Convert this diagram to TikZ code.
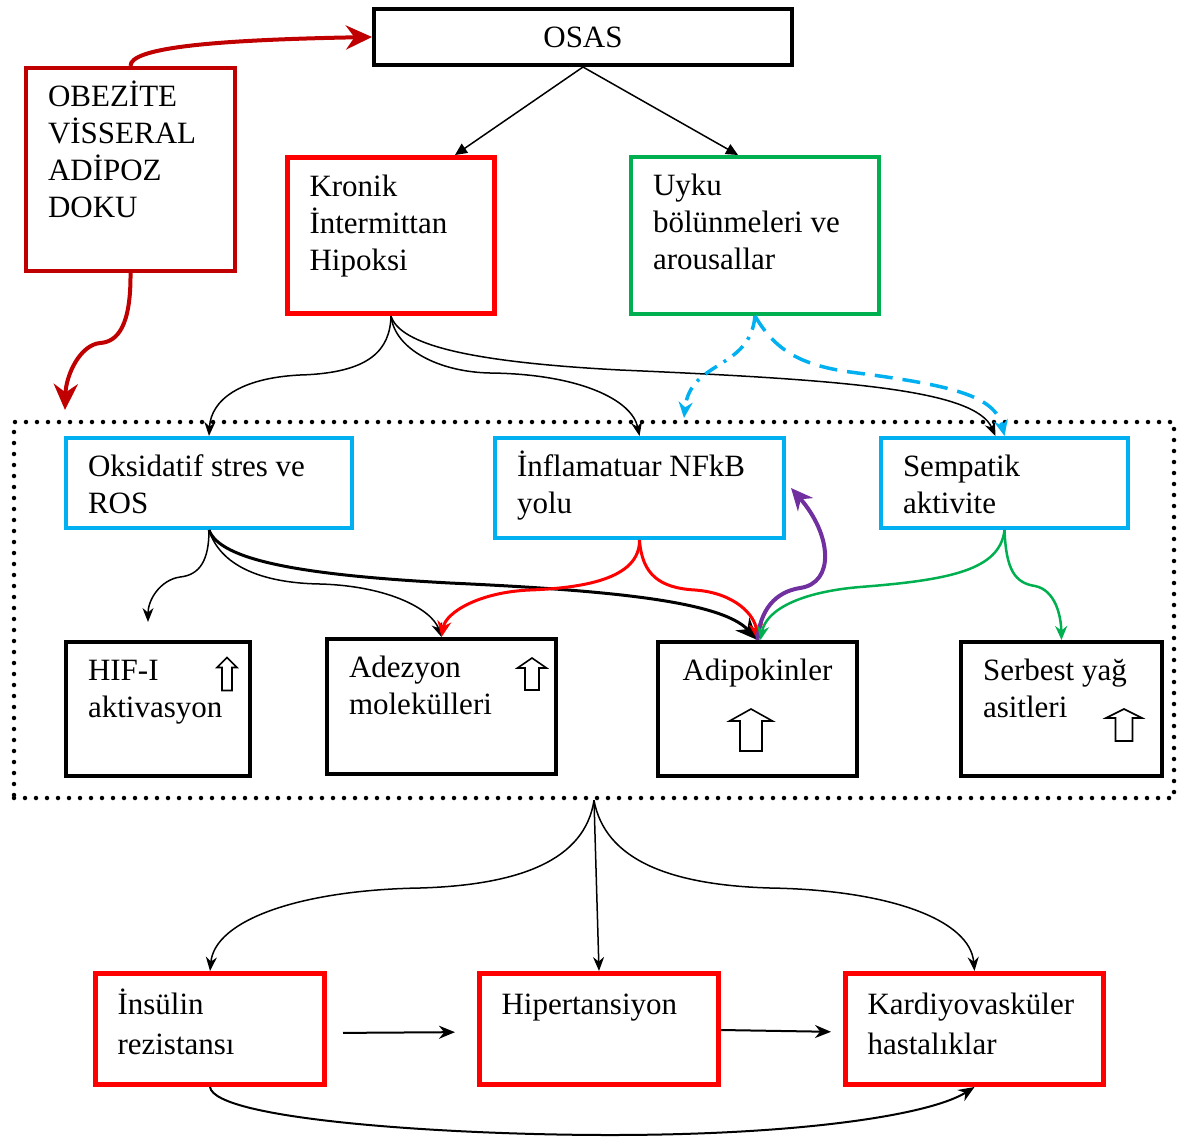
\documentclass[tikz,border=0pt]{standalone}
\usepackage{fontspec}
\setmainfont{Liberation Serif}
\usetikzlibrary{arrows.meta}
\definecolor{DarkRed}{HTML}{C00000}
\definecolor{BoxRed}{HTML}{FF0000}
\definecolor{BoxGreen}{HTML}{00B050}
\definecolor{BoxCyan}{HTML}{00B0F0}
\definecolor{Purple}{HTML}{7030A0}
\newcommand{\boxtext}[3]{\parbox[t][#2pt][t]{#1pt}{\raggedright\strut #3}}
\newcommand{\boxtextc}[3]{\parbox[t][#2pt][t]{#1pt}{\centering\strut #3}}
% yukari ok: x, y, boy, bas genisligi, govde genisligi, bas boyu
\newcommand{\uparr}[6]{%
  \draw[uparrow] ({#1-#5/2},{#2+#3/2}) -- ({#1-#5/2},{#2-#3/2+#6}) -- ({#1-#4/2},{#2-#3/2+#6})
    -- (#1,{#2-#3/2}) -- ({#1+#4/2},{#2-#3/2+#6}) -- ({#1+#5/2},{#2-#3/2+#6}) -- ({#1+#5/2},{#2+#3/2}) -- cycle;}
\tikzset{
    box/.style={rectangle, draw=black, line width=4pt, inner xsep=22pt, inner ysep=13pt, font=\fontsize{31}{37}\selectfont},
    redbox/.style={box, draw=BoxRed, line width=5pt},
    cyanbox/.style={box, draw=BoxCyan},
    dotbox/.style={draw, line width=4.5pt, dash pattern=on 0pt off 11pt, line cap=round, inner sep=0pt},
    uparrow/.style={draw, line width=1.6pt, fill=white, line join=miter},
    osaslink/.style={-{Triangle[length=12pt,width=11pt]}, line width=1.5pt},
    thinlink/.style={-{Stealth[length=14pt,width=11pt]}, line width=1.5pt},
    thicklink/.style={-{Stealth[length=22pt,width=19pt]}, line width=3pt},
    boldlink/.style={-{Stealth[length=16pt,width=13pt]}, line width=2pt},
    redlink/.style={-{Stealth[length=16pt,width=14pt]}, line width=3pt, draw=BoxRed},
    greenlink/.style={-{Stealth[length=14pt,width=12pt]}, line width=2.5pt, draw=BoxGreen},
    purplelink/.style={-{Stealth[length=22pt,width=20pt]}, line width=4pt, draw=Purple},
    cyanlink/.style={-{Stealth[length=16pt,width=14pt]}, line width=3.5pt, draw=BoxCyan},
    obezlink/.style={-{Stealth[length=26pt,width=24pt]}, line width=4pt, draw=DarkRed},
}
\begin{document}
\begin{tikzpicture}[x=1pt, y=-1pt]
\useasboundingbox (0,0) rectangle (1193,1140);

% ust kutular
\node[box, minimum width=418pt, minimum height=56pt] (osas) at (583,37) {OSAS};
\node[box, draw=DarkRed] (obez) at (130.5,169.5) {\boxtext{165}{177}{OBEZİTE\\VİSSERAL\\ADİPOZ\\DOKU}};
\node[redbox] (kronik) at (391,235.5) {\boxtext{163}{130}{Kronik\\İntermittan\\Hipoksi}};
\node[box, draw=BoxGreen] (uyku) at (755,235.5) {\boxtext{204}{131}{Uyku\\bölünmeleri ve\\arousallar}};

% noktali cerceve ve icindekiler
\node[dotbox, minimum width=1160pt, minimum height=376pt] (core) at (594,610) {};
\node[cyanbox] (oks) at (209,483) {\boxtext{242}{64}{Oksidatif stres ve\\ROS}};
\node[cyanbox] (inf) at (639.5,488) {\boxtext{245}{74}{İnflamatuar NFkB\\yolu}};
\node[cyanbox] (sem) at (1004.5,483) {\boxtext{203}{64}{Sempatik\\aktivite}};
\node[box] (hif) at (158,709) {\boxtext{140}{108}{HIF-I\\aktivasyon}};
\node[box] (adez) at (441.5,706.5) {\boxtext{185}{109}{Adezyon\\molekülleri}};
\node[box] (adip) at (757.5,709) {\boxtextc{155}{108}{Adipokinler}};
\node[box] (ser) at (1061.5,709) {\boxtext{157}{108}{Serbest yağ\\asitleri}};
\uparr{227}{674}{33}{20}{10}{10}
\uparr{532}{674}{32}{29}{14}{10}
\uparr{751}{730}{42}{43}{22}{12}
\uparr{1124}{725}{32}{36}{17}{9}

% alt kutular
\node[redbox, font=\fontsize{31}{40}\selectfont] (ins) at (210,1029) {\boxtext{185}{85}{İnsülin\\rezistansı}};
\node[redbox, font=\fontsize{31}{40}\selectfont] (hip) at (599,1029) {\boxtext{195}{85}{Hipertansiyon}};
\node[redbox, font=\fontsize{31}{40}\selectfont] (kar) at (974.5,1029) {\boxtext{214}{85}{Kardiyovasküler\\hastalıklar}};

% obezite oklari
\coordinate (obezend) at (65,410);
\draw[obezlink] (obez.north) .. controls (130,48) and (210,40) .. (osas.west);
\draw[obezlink] (obez.south) .. controls (131,325) and (118,342) .. (100,343) .. controls (80,345) and (66,375) .. (obezend);

% OSAS
\draw[osaslink] (osas.south) -- ([xshift=64pt]kronik.north);
\draw[osaslink] (osas.south) -- ([xshift=-17pt]uyku.north);

% kronik hipoksi
\draw[thinlink] (kronik.south) .. controls (390,350) and (370,373) .. (300,375) .. controls (240,378) and (211,400) .. (oks.north);
\draw[thinlink] (kronik.south) .. controls (395,350) and (440,372) .. (490,373) .. controls (580,374) and (632,400) .. (inf.north);
\draw[thinlink] (kronik.south) .. controls (400,345) and (470,362) .. (620,370) .. controls (850,380) and (975,390) .. ([xshift=-9pt]sem.north);

% uyku
\coordinate (uykuend) at (684,418);
\draw[cyanlink, dash pattern=on 14pt off 8pt on 3pt off 8pt] (uyku.south) .. controls (750,370) and (690,360) .. (uykuend);
\draw[cyanlink, dash pattern=on 18pt off 10pt] (uyku.south) .. controls (775,350) and (800,365) .. (850,372) .. controls (950,385) and (995,395) .. (sem.north);

% oksidatif stres
\coordinate (hifend) at (148,622);
\draw[thinlink] (oks.south) .. controls (209,560) and (200,575) .. (180,577) .. controls (160,580) and (148,600) .. (hifend);
\draw[thinlink] (oks.south) .. controls (220,565) and (260,583) .. (320,584) .. controls (390,586) and (432,610) .. (adez.north);
\draw[thicklink] (oks.south) .. controls (220,560) and (300,575) .. (450,583) .. controls (600,590) and (720,600) .. (adip.north);

% inflamasyon
\draw[redlink] (inf.south) .. controls (640,580) and (580,588) .. (530,590) .. controls (480,592) and (446,612) .. (adez.north);
\draw[redlink] (inf.south) .. controls (642,575) and (660,588) .. (695,590) .. controls (735,593) and (755,615) .. (adip.north);
\draw[purplelink] (adip.north) .. controls (760,610) and (775,592) .. (800,588) .. controls (835,583) and (832,535) .. ([xshift=5pt]inf.east);

% sempatik
\draw[greenlink] (sem.south) .. controls (1000,570) and (950,580) .. (860,587) .. controls (800,592) and (766,610) .. ([xshift=3pt]adip.north);
\draw[greenlink] (sem.south) .. controls (1006,570) and (1015,583) .. (1035,586) .. controls (1055,590) and (1061,615) .. (ser.north);

% sonuclar
\draw[thinlink] (core.south) .. controls (585,860) and (520,885) .. (420,888) .. controls (300,890) and (215,920) .. (ins.north);
\draw[thinlink] (core.south) -- (hip.north);
\draw[thinlink] (core.south) .. controls (605,860) and (670,885) .. (770,888) .. controls (890,890) and (970,920) .. (kar.north);
\draw[boldlink, shorten <=16pt, shorten >=22pt] ([yshift=-4pt]ins.east) -- ([yshift=-3pt]hip.west);
\draw[boldlink, shorten >=12pt] ([yshift=-1pt]hip.east) -- ([yshift=-3pt]kar.west);
\draw[boldlink] (ins.south) .. controls (215,1120) and (450,1135) .. (610,1135) .. controls (800,1135) and (930,1115) .. (kar.south);
\end{tikzpicture}
\end{document}
